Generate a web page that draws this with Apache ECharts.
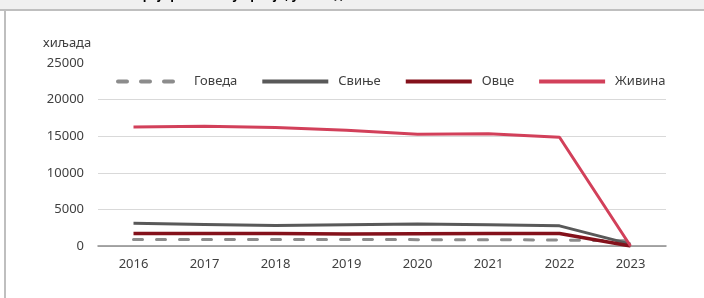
<!DOCTYPE html>
<html>
<head>
<meta charset="utf-8">
<script src="https://cdn.jsdelivr.net/npm/echarts@6/dist/echarts.min.js"></script>
<style>
  html, body { margin: 0; padding: 0; background: #fff; }
  #chart { width: 704px; height: 298px; }
</style>
</head>
<body>
<div id="chart"></div>
<script>
// категорије и вредности (хиљада грла)
const years = ['2016', '2017', '2018', '2019', '2020', '2021', '2022', '2023'];
const govedaVals = [900, 900, 880, 890, 870, 860, 820, 700];
const svinjeVals = [3100, 2950, 2800, 2900, 3000, 2900, 2750, 250];
const ovceVals = [1700, 1720, 1700, 1650, 1680, 1700, 1700, 0];
const zivinaVals = [16250, 16350, 16200, 15800, 15250, 15350, 14850, 0];
const seriesNames = ['Говеда', 'Свиње', 'Овце', 'Живина'];

let chart = echarts.init(document.getElementById('chart'));

let option = {
  animation: false,
  textStyle: { fontFamily: 'Noto Sans' },
  graphic: [
    { type: 'rect', shape: { x: 0, y: 0, width: 704, height: 9 }, style: { fill: '#f0f0f0' }, silent: true },
    // одсечен наслов изнад оквира
    { type: 'text', x: 135, y: 2, silent: true,
      style: { text: 'Број грла стоке у Србији, у хиљадама', fill: '#000', font: 'bold 12px "Noto Sans"', verticalAlign: 'bottom' } },
    { type: 'rect', shape: { x: 0, y: 3, width: 704, height: 6 }, style: { fill: '#f0f0f0' }, silent: true, z: 101 },
    { type: 'rect', shape: { x: 0, y: 9, width: 704, height: 2 }, style: { fill: '#bfbfbf' }, silent: true, z: 101 },
    { type: 'rect', shape: { x: 4, y: 9, width: 2, height: 289 }, style: { fill: '#bfbfbf' }, silent: true },
    { type: 'text', left: 43, top: 37, style: { text: 'хиљада', fill: '#404040', font: '13px "Noto Sans"' } }
  ],
  legend: {
    data: seriesNames,
    top: 70,
    left: 111,
    itemWidth: 66,
    itemHeight: 12,
    itemGap: 23,
    itemStyle: { opacity: 0 },
    lineStyle: { width: 4 },
    textStyle: { color: '#404040', fontSize: 13, fontFamily: 'Noto Sans', padding: [0, 0, 0, 5] }
  },
  grid: { left: 98, right: 38, top: 63, bottom: 52 },
  xAxis: {
    type: 'category',
    data: years,
    boundaryGap: true,
    axisLine: { lineStyle: { color: '#8c8c8c', width: 1.5 } },
    axisTick: { show: false },
    axisLabel: { color: '#404040', fontSize: 13, margin: 12 }
  },
  yAxis: {
    type: 'value',
    min: 0,
    max: 25000,
    interval: 5000,
    axisLine: { show: false },
    axisTick: { show: false },
    axisLabel: { color: '#404040', fontSize: 13, margin: 14, formatter: function (v) { return String(v); } },
    splitLine: {
      lineStyle: { color: ['#d9d9d9', '#d9d9d9', '#d9d9d9', '#d9d9d9', '#d9d9d9', 'rgba(0,0,0,0)'], width: 1 }
    }
  },
  series: [
    {
      name: 'Говеда', type: 'line', symbol: 'none', data: govedaVals,
      itemStyle: { color: '#8c8c8c' },
      lineStyle: { color: '#8c8c8c', width: 3, type: [9, 14], cap: 'round' }
    },
    {
      name: 'Свиње', type: 'line', symbol: 'none', data: svinjeVals,
      itemStyle: { color: '#595959' },
      lineStyle: { color: '#595959', width: 3 }
    },
    {
      name: 'Овце', type: 'line', symbol: 'none', data: ovceVals,
      itemStyle: { color: '#84111b' },
      lineStyle: { color: '#84111b', width: 3.5 }
    },
    {
      name: 'Живина', type: 'line', symbol: 'none', data: zivinaVals,
      itemStyle: { color: '#d2405a' },
      lineStyle: { color: '#d2405a', width: 3 }
    }
  ]
};

chart.setOption(option);
</script>
</body>
</html>
